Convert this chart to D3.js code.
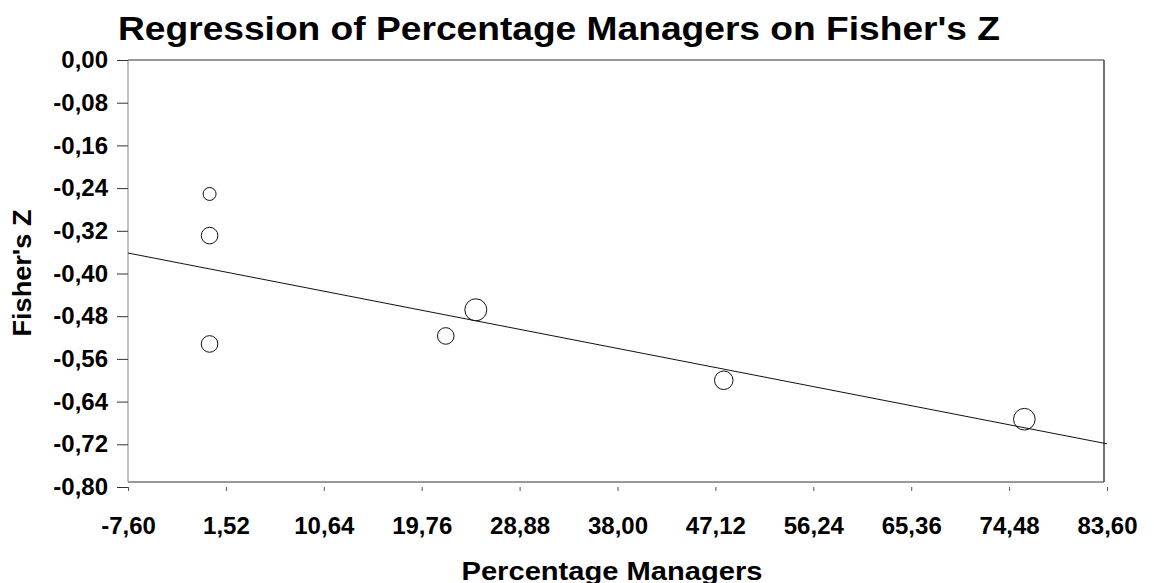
<!DOCTYPE html>
<html>
<head>
<meta charset="utf-8">
<script src="https://cdn.jsdelivr.net/npm/d3@7"></script>
<style>
  body { margin: 0; background: #fff; }
  text { font-family: "Liberation Sans", Arial, sans-serif; font-weight: bold; fill: #000; }
</style>
</head>
<body>
<div id="chart"></div>
<script>
// study-level points: percentage managers vs Fisher's Z, circle size by weight
const pctManagers = [0, 0, 0, 22.0, 24.8, 47.9, 75.9];
const fisherZ = [-0.251, -0.329, -0.532, -0.517, -0.468, -0.600, -0.673];
const weights = [42, 69, 69, 69, 121, 86, 117];

// fitted regression line
const regIntercept = -0.3914;
const regSlope = -0.00392;

const xTicks = [-7.60, 1.52, 10.64, 19.76, 28.88, 38.00, 47.12, 56.24, 65.36, 74.48, 83.60];
const yTicks = [0, -0.08, -0.16, -0.24, -0.32, -0.40, -0.48, -0.56, -0.64, -0.72, -0.80];

const W = 1154, H = 583;
const fmt = d3.formatLocale({decimal: ",", thousands: ".", grouping: [3], currency: ["", ""], minus: "-"}).format(".2f");

const svg = d3.select("#chart")
    .append("svg")
    .attr("width", W)
    .attr("height", H);

const x = d3.scaleLinear().domain([-7.6, 83.6]).range([128, 1107]);
const y = d3.scaleLinear().domain([-0.8, 0]).range([487, 60]);
const r = d3.scaleSqrt().domain([0, d3.max(weights)]).range([0, 11]);

// plot frame
const fL = 128, fR = 1104, fT = 60, fB = 482;
svg.append("line").attr("x1", fL).attr("x2", fR).attr("y1", fT).attr("y2", fT).attr("stroke", "#333");
svg.append("line").attr("x1", fL).attr("x2", fR).attr("y1", fB).attr("y2", fB).attr("stroke", "#333");
svg.append("line").attr("x1", fL).attr("x2", fL).attr("y1", fT).attr("y2", fB).attr("stroke", "#888");
svg.append("line").attr("x1", fR).attr("x2", fR).attr("y1", fT).attr("y2", fB).attr("stroke", "#444").attr("stroke-width", 1.5);

// axes
const yAxis = svg.append("g")
    .attr("transform", `translate(${fL},0)`)
    .call(d3.axisLeft(y).tickValues(yTicks).tickFormat(fmt).tickSize(11).tickPadding(9));
yAxis.select(".domain").remove();
yAxis.selectAll(".tick line").attr("stroke", "#333");
yAxis.selectAll("text").attr("font-size", 24).attr("font-family", null);

const xAxis = svg.append("g")
    .attr("transform", `translate(0,${y(-0.8)})`)
    .call(d3.axisBottom(x).tickValues(xTicks).tickFormat(fmt).tickSize(4).tickPadding(26));
xAxis.select(".domain").remove();
xAxis.selectAll(".tick line").attr("stroke", "#555");
xAxis.selectAll("text").attr("font-size", 24).attr("font-family", null);

// regression line
const lineX = x.domain();
svg.append("line")
    .attr("x1", x(lineX[0])).attr("y1", y(regIntercept + regSlope * lineX[0]))
    .attr("x2", x(lineX[1])).attr("y2", y(regIntercept + regSlope * lineX[1]))
    .attr("stroke", "#111")
    .attr("stroke-width", 1);

// points
svg.append("g").selectAll("circle")
    .data(pctManagers.map((v, i) => ({x: v, y: fisherZ[i], w: weights[i]})))
    .join("circle")
    .attr("cx", d => x(d.x))
    .attr("cy", d => y(d.y))
    .attr("r", d => r(d.w))
    .attr("fill", "none")
    .attr("stroke", "#111")
    .attr("stroke-width", 1);

// titles
svg.append("text")
    .attr("x", 118).attr("y", 40)
    .attr("font-size", 33)
    .attr("textLength", 882).attr("lengthAdjust", "spacingAndGlyphs")
    .text("Regression of Percentage Managers on Fisher's Z");

svg.append("text")
    .attr("transform", "translate(31,273) rotate(-90)")
    .attr("text-anchor", "middle")
    .attr("font-size", 25)
    .attr("textLength", 127).attr("lengthAdjust", "spacingAndGlyphs")
    .text("Fisher's Z");

svg.append("text")
    .attr("x", 612).attr("y", 580)
    .attr("text-anchor", "middle")
    .attr("font-size", 26)
    .attr("textLength", 301).attr("lengthAdjust", "spacingAndGlyphs")
    .text("Percentage Managers");
</script>
</body>
</html>
